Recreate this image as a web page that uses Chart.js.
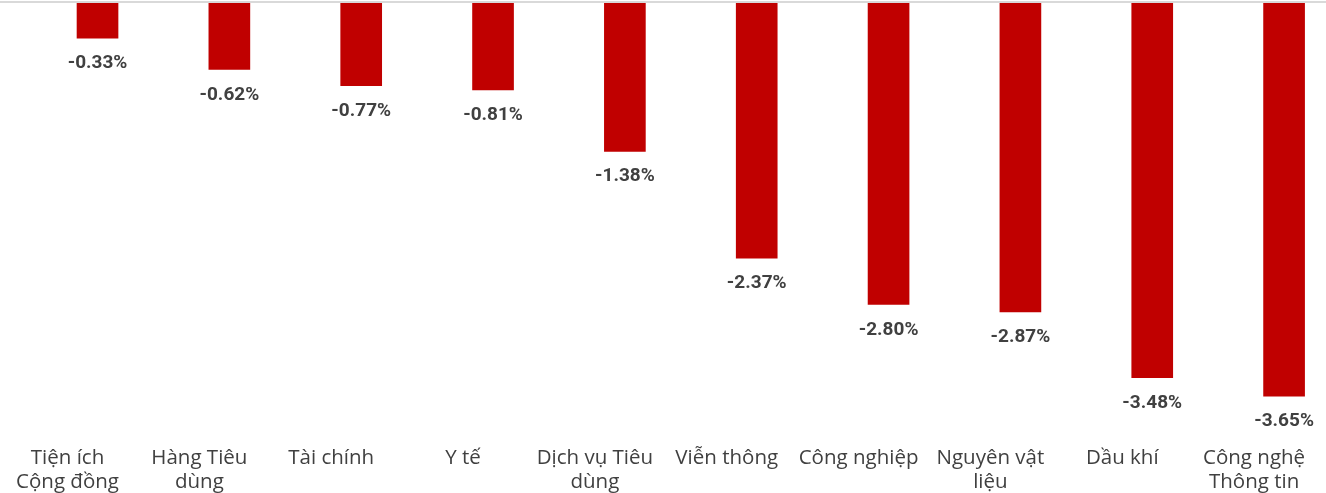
<!DOCTYPE html>
<html>
<head>
<meta charset="utf-8">
<script src="https://cdn.jsdelivr.net/npm/chart.js@4"></script>
<style>
  html, body { margin: 0; padding: 0; background: #fff; overflow: hidden; }
  #wrap { position: relative; width: 1350px; height: 493px; }
</style>
</head>
<body>
<div id="wrap"><canvas id="chart"></canvas></div>
<script>
// Danh mục ngành (nhãn trục x, xuống dòng như hình gốc)
const nganh = [
  ['Tiện ích', 'Cộng đồng'],
  ['Hàng Tiêu', 'dùng'],
  'Tài chính',
  'Y tế',
  ['Dịch vụ Tiêu', 'dùng'],
  'Viễn thông',
  'Công nghiệp',
  ['Nguyên vật', 'liệu'],
  'Dầu khí',
  ['Công nghệ', 'Thông tin']
];

// % thay đổi
const thayDoi = [-0.33, -0.62, -0.77, -0.81, -1.38, -2.37, -2.80, -2.87, -3.48, -3.65];

const yMin = -3.98;
const yMax = 0;

// nhãn giá trị dưới mỗi cột
const nhanGiaTri = {
  id: 'nhanGiaTri',
  afterDatasetsDraw(chart) {
    const ctx = chart.ctx;
    const meta = chart.getDatasetMeta(0);
    ctx.save();
    ctx.font = 'bold 19px Roboto';
    ctx.fillStyle = '#404040';
    ctx.textAlign = 'center';
    ctx.textBaseline = 'middle';
    meta.data.forEach((bar, i) => {
      ctx.fillText(thayDoi[i].toFixed(2) + '%', bar.x, bar.y + 25);
    });
    ctx.restore();
  }
};

// đường 0 kéo hết chiều ngang
const duongKhong = {
  id: 'duongKhong',
  beforeDatasetsDraw(chart) {
    const ctx = chart.ctx;
    const y = chart.scales.y.getPixelForValue(0);
    ctx.save();
    ctx.strokeStyle = '#d9d9d9';
    ctx.lineWidth = 2;
    ctx.beginPath();
    ctx.moveTo(0, y - 1);
    ctx.lineTo(chart.width, y - 1);
    ctx.stroke();
    ctx.restore();
  }
};

new Chart(document.getElementById('chart'), {
  type: 'bar',
  data: {
    labels: nganh,
    datasets: [{
      data: thayDoi,
      backgroundColor: '#c00000',
      borderWidth: 0,
      barPercentage: 0.316,
      categoryPercentage: 1
    }]
  },
  options: {
    responsive: true,
    maintainAspectRatio: false,
    animation: false,
    layout: { padding: { top: 3, left: 31.6, right: 0, bottom: -15 } },
    plugins: {
      legend: { display: false },
      tooltip: { enabled: false }
    },
    scales: {
      x: {
        grid: { display: false, drawTicks: false },
        border: { display: false },
        ticks: {
          color: '#404040',
          font: { family: 'Open Sans', size: 20.5, lineHeight: '24px' },
          padding: 14,
          labelOffset: -30,
          maxRotation: 0,
          autoSkip: false
        }
      },
      y: {
        display: false,
        min: yMin,
        max: yMax
      }
    }
  },
  plugins: [duongKhong, nhanGiaTri]
});
</script>
</body>
</html>
